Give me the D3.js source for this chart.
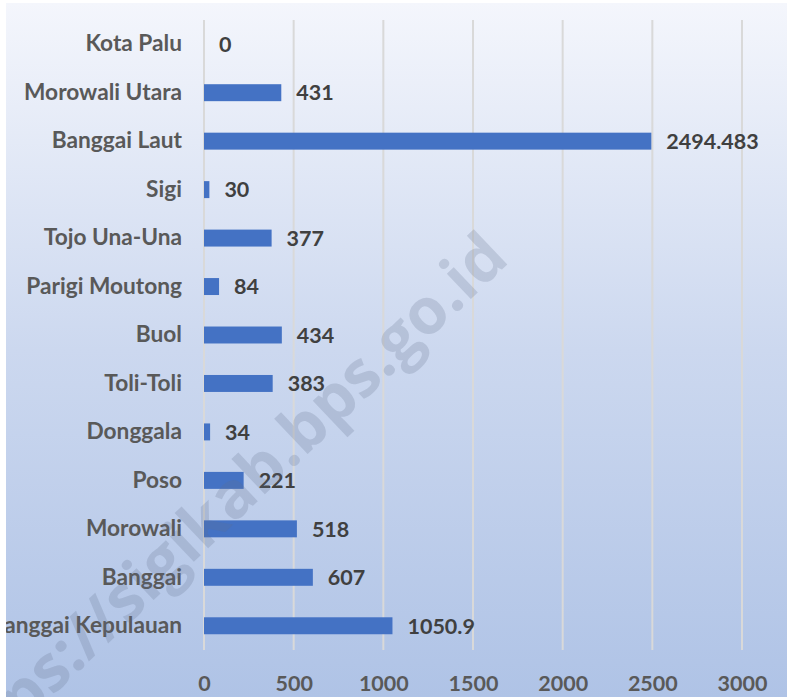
<!DOCTYPE html>
<html><head><meta charset="utf-8">
<script src="https://cdn.jsdelivr.net/npm/d3@7"></script>
<style>body{margin:0;background:#fff}svg{display:block}</style>
</head><body>
<svg id="c" width="790" height="697"></svg>
<script>
const categories = ["Kota Palu","Morowali Utara","Banggai Laut","Sigi","Tojo Una-Una","Parigi Moutong","Buol","Toli-Toli","Donggala","Poso","Morowali","Banggai","Banggai Kepulauan"];
const values = [0,431,2494.483,30,377,84,434,383,34,221,518,607,1050.9];
const valueLabels = ["0","431","2494.483","30","377","84","434","383","34","221","518","607","1050.9"];
const tickValues = [0,500,1000,1500,2000,2500,3000];

const svg = d3.select("#c");
const defs = svg.append("defs");
const g = defs.append("linearGradient").attr("id","bg").attr("x1",0).attr("y1",0).attr("x2",0).attr("y2",1);
g.append("stop").attr("offset","0%").attr("stop-color","#F4F6FC");
g.append("stop").attr("offset","50%").attr("stop-color","#CCD8EF");
g.append("stop").attr("offset","100%").attr("stop-color","#AFC3E6");
defs.append("clipPath").attr("id","area").append("rect").attr("x",6).attr("y",3).attr("width",781).attr("height",694);
svg.append("rect").attr("x",6).attr("y",3).attr("width",781).attr("height",694).attr("fill","url(#bg)");
const root = svg.append("g").attr("clip-path","url(#area)");

const font = "Lato, 'Open Sans', sans-serif";
const x = d3.scaleLinear().domain([0,3000]).range([204,742]);
const y = d3.scaleBand().domain(categories).range([20,650]).paddingInner(0.65).paddingOuter(0.325);

// gridlines
root.append("g").selectAll("line").data(tickValues).join("line")
  .attr("x1",d=>x(d)).attr("x2",d=>x(d)).attr("y1",20).attr("y2",650)
  .attr("stroke","#D9D9D9").attr("stroke-width",2);

// x axis labels
const xa = root.append("g").attr("transform","translate(0,691)")
  .call(d3.axisBottom(x).tickValues(tickValues).tickFormat(d3.format("d")).tickSize(0).tickPadding(0));
xa.select(".domain").remove();
xa.selectAll("text").attr("font-family",font).attr("font-weight","bold").attr("font-size",21.5).attr("fill","#595959").attr("dy","0");

// y axis labels
const ya = root.append("g").attr("transform","translate(182,0)")
  .call(d3.axisLeft(y).tickSize(0).tickPadding(0));
ya.select(".domain").remove();
ya.selectAll("text").attr("font-family",font).attr("font-weight","bold").attr("font-size",22.7).attr("fill","#595959");

// bars
root.append("g").selectAll("rect").data(values).join("rect")
  .attr("x",x(0)).attr("y",(d,i)=>y(categories[i]))
  .attr("width",d=>x(d)-x(0)).attr("height",y.bandwidth())
  .attr("fill","#4472C4");

// value labels
root.append("g").selectAll("text").data(values).join("text")
  .attr("x",d=>x(d)+15).attr("y",(d,i)=>y(categories[i])+y.bandwidth()/2)
  .attr("dy","0.36em").attr("font-family",font).attr("font-weight","bold").attr("font-size",21.5)
  .attr("fill","#404040").text((d,i)=>valueLabels[i]);

// watermark
root.append("text").attr("transform","translate(216,510) rotate(-43.5)")
  .attr("text-anchor","middle").attr("font-family","'Open Sans', sans-serif").attr("font-weight","bold")
  .attr("font-size",64).attr("fill","#5f6f8a").attr("fill-opacity",0.22)
  .attr("dy","0.35em").text("https://sigikab.bps.go.id");
</script>
</body></html>
